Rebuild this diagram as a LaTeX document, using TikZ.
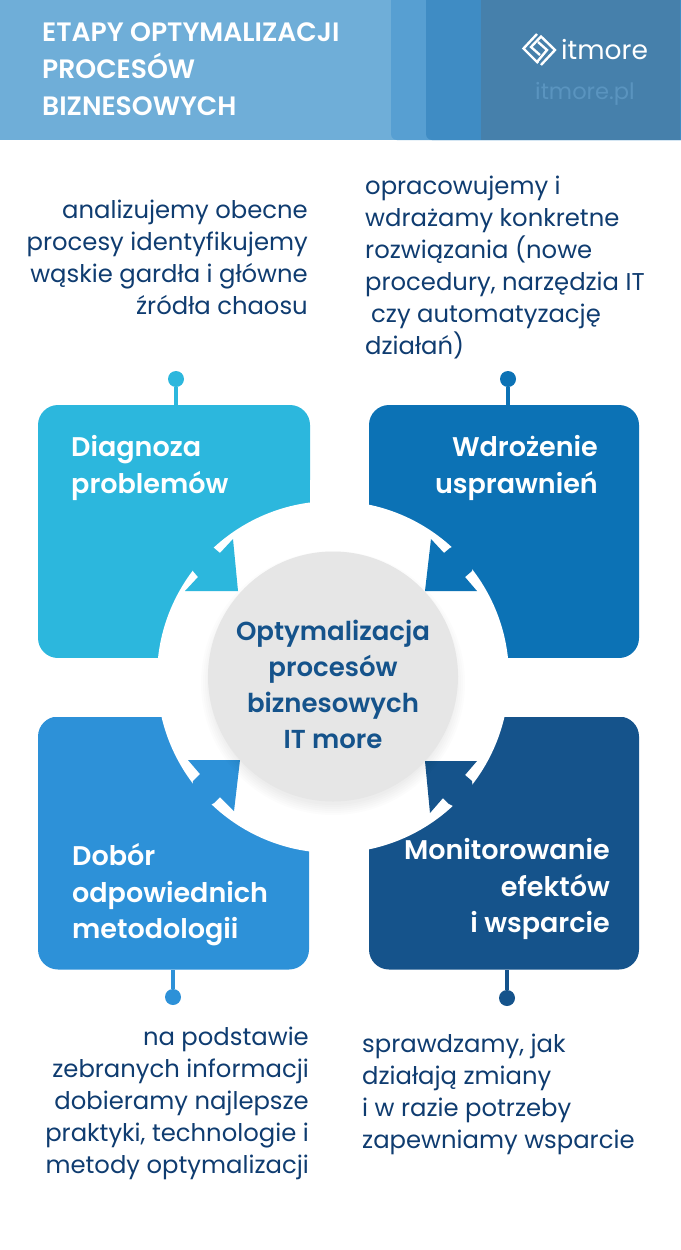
\documentclass[tikz,border=0pt]{standalone}
\usepackage{fontspec}
\setmainfont{Poppins}
\newfontfamily\semifont{Poppins SemiBold}
\definecolor{headbase}{HTML}{6FAED8}
\definecolor{headone}{HTML}{579FD2}
\definecolor{headtwo}{HTML}{3F8CC4}
\definecolor{headthree}{HTML}{4680AB}
\definecolor{sitegrey}{HTML}{5A94BF}
\definecolor{cardcyan}{HTML}{2CB7DD}
\definecolor{cardblue}{HTML}{0C72B5}
\definecolor{cardsky}{HTML}{2D91D8}
\definecolor{cardnavy}{HTML}{15538B}
\definecolor{bodyink}{HTML}{0F3C70}
\definecolor{hubgrey}{HTML}{E6E6E6}
\tikzset{
  card/.style = {rounded corners = 20, minimum width = #1, minimum height = 253, inner sep = 0},
  pin/.style = {circle, minimum size = 16, inner sep = 0},
  note/.style = {text = bodyink, inner sep = 0, font = \fontsize{24.3}{32}\selectfont},
  cardtitle/.style = {text = white, inner sep = 0, font = \semifont\fontsize{27}{36.5}\selectfont},
}
\begin{document}
\begin{tikzpicture}[x = 1pt, y = -1pt]
    \useasboundingbox (0, 0) rectangle (680, 1250);
    % header
    \fill [headbase] (0, 0) rectangle (680, 140);
    \fill [headone, rounded corners = 6] (391, -10) rectangle (690, 140);
    \fill [headtwo, rounded corners = 6] (426, -10) rectangle (690, 140);
    \fill [headthree] (481, 0) rectangle (680, 140);
    \node (title) [anchor = north west, align = left, text = white, inner sep = 0,
        font = \semifont\fontsize{26.6}{37}\selectfont] at (42, 22)
        {ETAPY OPTYMALIZACJI\\PROCESÓW\\BIZNESOWYCH};
    % logo
    \draw [white, line width = 2.4, line join = miter] (537, 34) -- (523.5, 48.5) -- (538, 63);
    \draw [white, line width = 2.4] (541, 65) -- (555, 50) -- (541, 36.5) -- (531, 47) -- (540, 55);
    \draw [white, line width = 2.4] (537, 62) -- (547, 50) -- (538, 42);
    \node (brand) [anchor = base west, text = white, inner sep = 0, font = \fontsize{26.5}{30}\selectfont] at (561, 59) {itmore};
    \node (site) [anchor = base west, text = sitegrey, inner sep = 0, font = \fontsize{22.6}{24}\selectfont] at (535, 99) {itmore.pl};
    % cards
    \node (diagnoza) [card = 272, fill = cardcyan] at (174, 531.5) {};
    \node (wdrozenie) [card = 270, fill = cardblue] at (504, 531.5) {};
    \node (dobor) [card = 271, fill = cardsky] at (173.5, 843) {};
    \node (monitoring) [card = 270, fill = cardnavy] at (504, 843) {};
    % white ring and the four arrows
    \fill [white] (333, 677) circle [radius = 176];
    \fill [white] (310, 480) rectangle (369, 1000);
    \fill [white] (0, 658) rectangle (680, 717);
    \fill [cardcyan] (233, 539) -- (238, 591) -- (185, 591) -- (198, 577) -- (193, 571) -- (190, 535) -- (214, 548) -- (220, 553) -- cycle;
    \fill [cardblue] (431, 539) -- (425, 591) -- (477, 591) -- (465, 577) -- (472, 571) -- (476, 535) -- (450, 548) -- (444, 553) -- cycle;
    \fill [cardsky] (240, 760) -- (188, 760) -- (200, 774) -- (193, 781) -- (190, 817) -- (214, 803) -- (220, 797) -- (234, 811) -- cycle;
    \fill [cardnavy] (425, 761) -- (477, 761) -- (465, 775) -- (472, 781) -- (476, 817) -- (449, 804) -- (443, 798) -- (430, 813) -- cycle;
    % hub
    \foreach \i in {1, ..., 6}
        \fill [black, opacity = 0.01] (333, 683) circle [radius = 120 + 2 * \i];
    \node (hub) [circle, fill = hubgrey, minimum size = 250, inner sep = 0] at (333, 676.5) {};
    \node (hubtext) [align = center, text = cardnavy, inner sep = 0,
        font = \semifont\fontsize{26}{36}\selectfont] at (333, 684)
        {Optymalizacja\\procesów\\biznesowych\\IT more};
    % pins
    \node (pinA) [pin, fill = cardcyan] at (176, 379) {};
    \node (pinB) [pin, fill = cardblue] at (508, 379) {};
    \node (pinC) [pin, fill = cardsky] at (173, 997) {};
    \node (pinD) [pin, fill = cardnavy] at (507, 998) {};
    \draw [cardcyan, line width = 3.5] (pinA) to (pinA |- diagnoza.north);
    \draw [cardblue, line width = 3.5] (pinB) to (pinB |- wdrozenie.north);
    \draw [cardsky, line width = 3.5] (pinC) to (pinC |- dobor.south);
    \draw [cardnavy, line width = 3.5] (pinD) to (pinD |- monitoring.south);
    % card titles
    \node (titleA) [cardtitle, anchor = north west, align = left] at (71, 435.5) {Diagnoza\\problemów};
    \node (titleB) [cardtitle, anchor = north east, align = right] at (598, 435.5) {Wdrożenie\\usprawnień};
    \node (titleC) [cardtitle, anchor = north west, align = left] at (72, 843.5) {Dobór\\odpowiednich\\metodologii};
    \node (titleD) [cardtitle, anchor = north east, align = right] at (610, 838.5) {Monitorowanie\\efektów\\i wsparcie};
    % notes
    \node (noteA) [note, anchor = north east, align = right] at (308, 200)
        {analizujemy obecne\\procesy identyfikujemy\\wąskie gardła i główne\\źródła chaosu};
    \node (noteB) [note, anchor = north west, align = left] at (365, 176)
        {opracowujemy i\\wdrażamy konkretne\\rozwiązania (nowe\\procedury, narzędzia IT\\\hspace*{6pt}czy automatyzację\\działań)};
    \node (noteC) [note, anchor = north east, align = right] at (309, 1027)
        {na podstawie\\zebranych informacji\\dobieramy najlepsze\\praktyki, technologie i\\metody optymalizacji};
    \node (noteD) [note, anchor = north west, align = left] at (362, 1034)
        {sprawdzamy, jak\\działają zmiany\\i w razie potrzeby\\zapewniamy wsparcie};
\end{tikzpicture}
\end{document}
